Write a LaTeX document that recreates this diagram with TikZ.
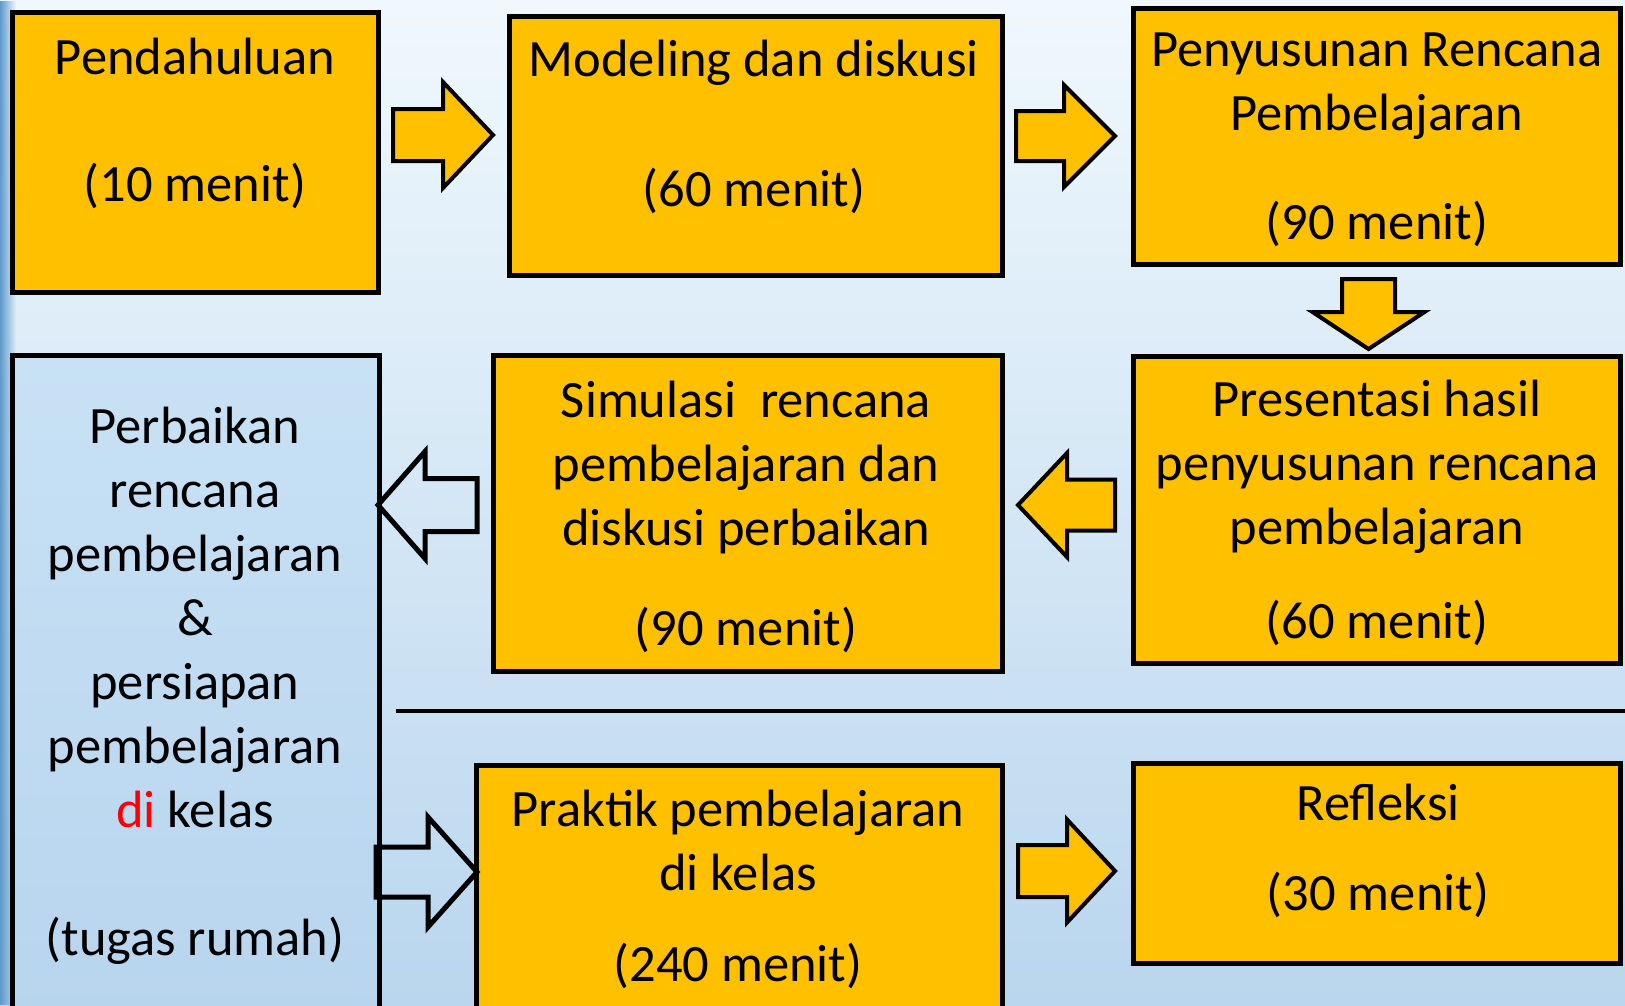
\documentclass[tikz,border=0pt]{standalone}
\usepackage{fontspec}
\setmainfont{Carlito}
\usetikzlibrary{fadings}
\definecolor{boxyellow}{HTML}{FFC000}
\definecolor{bgtop}{HTML}{F0F8FD}
\definecolor{bgbot}{HTML}{B9D6EE}
\definecolor{lbtop}{HTML}{C8E1F5}
\definecolor{lbbot}{HTML}{B8D5EE}
\definecolor{edgeblue}{HTML}{5F9ACB}
\definecolor{redtxt}{HTML}{FF0000}
\newcommand{\HArrow}[7]{\draw[#1] (#2,{#5-#6}) -- (#3,{#5-#6}) -- (#3,{#5-#7}) -- (#4,#5) -- (#3,{#5+#7}) -- (#3,{#5+#6}) -- (#2,{#5+#6}) -- cycle;}
\newcommand{\VArrow}[7]{\draw[#1] ({#5-#6},#2) -- ({#5-#6},#3) -- ({#5-#7},#3) -- (#5,#4) -- ({#5+#7},#3) -- ({#5+#6},#3) -- ({#5+#6},#2) -- cycle;}
\begin{document}
\begin{tikzpicture}[x=1pt,y=-1pt,
  ybox/.style={draw=black, fill=boxyellow, line width=5pt, inner sep=0pt, rectangle},
  bbox/.style={draw=black, top color=lbtop, bottom color=lbbot, line width=5pt, inner sep=0pt, rectangle},
  txt/.style={align=center, inner sep=0pt, font=\fontsize{52.5}{64}\selectfont},
  farrow/.style={draw=black, fill=boxyellow, line width=4pt, line join=miter},
  oarrow/.style={draw=black, line width=5pt, line join=miter}]
\useasboundingbox (0,0) rectangle (1625,1005);
\clip (0,0) rectangle (1625,1005);
% background
\shade[top color=bgtop, bottom color=bgbot] (0,0) rectangle (1625,1005);
\fill[edgeblue, path fading=east] (0,0) rectangle (16,1005);
% boxes
\node[ybox, minimum width=366, minimum height=280] (b1) at (195,152) {};
\node[ybox, minimum width=493, minimum height=259] (b2) at (755.5,145.5) {};
\node[ybox, minimum width=487, minimum height=256] (b3) at (1376.5,136) {};
\node[ybox, minimum width=487, minimum height=307] (b4) at (1376.5,509.5) {};
\node[ybox, minimum width=509, minimum height=316] (b5) at (747.5,513) {};
\node[bbox, minimum width=367, minimum height=670] (b6) at (195.5,690) {};
\node[ybox, minimum width=526, minimum height=260] (b7) at (739,895) {};
\node[ybox, minimum width=487, minimum height=200] (b8) at (1376.5,863) {};
% separator line
\coordinate (ls) at (396,711);
\coordinate (le) at (1625,711);
\draw[line width=4pt] (ls) -- (le);
% texts
\node[txt] (t1) at (195,123.5) {Pendahuluan\\[63pt](10 menit)};
\node[txt] (t2) at (754,127) {Modeling dan diskusi\\[66pt](60 menit)};
\node[txt] (t3) at (1377,139.5) {Penyusunan Rencana\\Pembelajaran\\[45pt](90 menit)};
\node[txt] (t4) at (1377,513) {Presentasi hasil\\penyusunan rencana\\pembelajaran\\[30pt](60 menit)};
\node[txt] (t5) at (746,516.5) {Simulasi\ \ rencana\\pembelajaran dan\\diskusi perbaikan\\[36pt](90 menit)};
\node[txt] (t6) at (195,685.5) {Perbaikan\\rencana\\pembelajaran\\\&\\persiapan\\pembelajaran\\{\color{redtxt}di} kelas\\[64pt](tugas rumah)};
\node[txt] (t7) at (738,889) {Praktik pembelajaran\\di kelas\\[27pt](240 menit)};
\node[txt] (t8) at (1378,851) {Refleksi\\[26pt](30 menit)};
% block arrows
\HArrow{farrow}{393}{443}{493}{135}{26}{53}
\HArrow{farrow}{1016}{1064}{1115}{136}{25}{51}
\VArrow{farrow}{279}{312}{349}{1368.5}{26.5}{56}
\HArrow{farrow}{1115}{1067}{1018}{505}{25.5}{52}
\HArrow{oarrow}{477}{425}{378}{505}{26.5}{53.5}
\HArrow{oarrow}{376}{428}{477}{872}{25}{55}
\HArrow{farrow}{1018}{1067}{1115}{871}{26}{51.5}
\end{tikzpicture}
\end{document}
